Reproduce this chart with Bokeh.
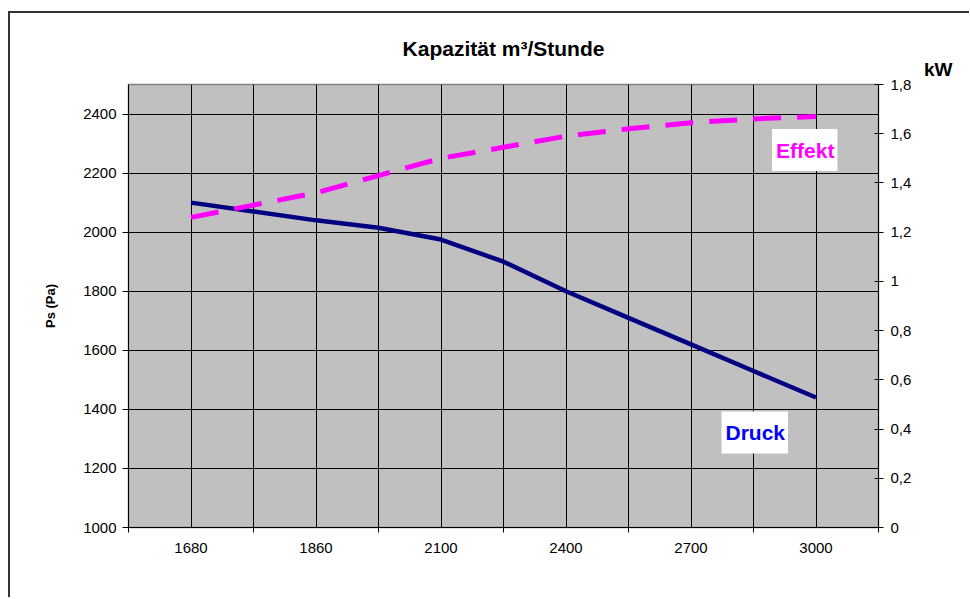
from bokeh.plotting import figure
from bokeh.models import Range1d, LinearAxis, FixedTicker, Label, Title, CustomJSTickFormatter
from bokeh.embed import file_html
from bokeh.resources import INLINE

# ---- data ----
capacity = ["1680", "", "1860", "", "2100", "", "2400", "", "2700", "", "3000"]
druck = [2100, 2070, 2040, 2015, 1975, 1900, 1800, 1710, 1620, 1530, 1440]
effekt = [1.26, 1.31, 1.36, 1.43, 1.50, 1.545, 1.59, 1.62, 1.645, 1.66, 1.67]
ps_ticks = [1000, 1200, 1400, 1600, 1800, 2000, 2200, 2400]
kw_ticks = [0, 0.2, 0.4, 0.6, 0.8, 1.0, 1.2, 1.4, 1.6, 1.8]
kw_labels = ["0", "0,2", "0,4", "0,6", "0,8", "1", "1,2", "1,4", "1,6", "1,8"]

FONT = "Liberation Sans"
n = len(capacity)
x = list(range(n))

p = figure(frame_width=750, frame_height=443,
           min_border_left=118, min_border_right=91,
           min_border_top=71, min_border_bottom=70,
           x_range=Range1d(-1, n), y_range=Range1d(1000, 2500),
           output_backend="svg", toolbar_location=None)
p.styles = {"margin-left": "8px", "margin-top": "11px",
            "border-left": "2px solid #333333",
            "border-top": "2px solid #333333"}

p.background_fill_color = "#C0C0C0"
p.border_fill_color = "white"
p.outline_line_color = "#808080"
p.outline_line_width = 1.5

# "kW" unit caption (inner title slot, right of the frame)
kw_title = Title(text="kW", align="right", offset=-74, text_font=FONT,
                 text_font_size="19px", text_font_style="bold",
                 text_color="black", standoff=10)
p.add_layout(kw_title, "above")

# main title (outer)
p.title.text = "Kapazität m³/Stunde"
p.title.align = "center"
p.title.text_font = FONT
p.title.text_font_size = "21px"
p.title.text_font_style = "bold"
p.title.text_color = "black"
try:
    p.title.standoff = -16
except Exception:
    p.title.standoff = 0

# second y range
p.extra_y_ranges = {"kw": Range1d(0, 1.8)}

# grids
p.xgrid.ticker = FixedTicker(ticks=list(range(-1, n + 1)))
p.xgrid.grid_line_color = "black"
p.xgrid.grid_line_width = 1
p.ygrid.ticker = FixedTicker(ticks=ps_ticks)
p.ygrid.grid_line_color = "black"
p.ygrid.grid_line_width = 1

# x axis
xa = p.xaxis[0]
xa.ticker = FixedTicker(ticks=x, minor_ticks=list(range(-1, n + 1, 2)))
xa.formatter = CustomJSTickFormatter(args=dict(labels=capacity),
                                     code="const i = Math.round(tick); return (i >= 0 && i < labels.length) ? labels[i] : '';")
xa.major_tick_in = 0
xa.major_tick_out = 0
xa.minor_tick_in = 3
xa.minor_tick_out = 5
xa.minor_tick_line_color = "black"
xa.major_label_standoff = 10

# left axis
ya = p.yaxis[0]
ya.ticker = FixedTicker(ticks=ps_ticks)
ya.major_tick_in = 0
ya.major_tick_out = 6
ya.major_label_standoff = 6
ya.minor_tick_line_color = None
ya.axis_label = "Ps (Pa)"
ya.axis_label_text_font = FONT
ya.axis_label_text_font_size = "13px"
ya.axis_label_text_font_style = "bold"
ya.axis_label_text_color = "black"
ya.axis_label_standoff = 22

# right axis
ra = LinearAxis(y_range_name="kw", ticker=FixedTicker(ticks=kw_ticks))
ra.formatter = CustomJSTickFormatter(args=dict(t=kw_ticks, l=kw_labels),
                                     code="const i = t.findIndex(v => Math.abs(v - tick) < 1e-9); return i >= 0 ? l[i] : '';")
ra.major_tick_in = 4
ra.major_tick_out = 5
ra.major_label_standoff = 7
ra.minor_tick_line_color = None
p.add_layout(ra, "right")

for ax in (xa, ya, ra):
    ax.major_label_text_font = FONT
    ax.major_label_text_font_size = "15px"
    ax.major_label_text_color = "black"
    ax.axis_line_color = "black"
    ax.major_tick_line_color = "black"

# series
p.line(x, druck, line_color="#000080", line_width=4.5)
p.line(x, effekt, y_range_name="kw", line_color="#FF00FF", line_width=5,
       line_dash="28 16")

# series labels
p.add_layout(Label(x=9.82, y=1.534, y_range_name="kw", text="Effekt",
                   text_color="#FF00FF", text_font=FONT, text_font_size="21px",
                   text_font_style="bold", text_align="center",
                   text_baseline="middle", background_fill_color="white",
                   padding=dict(left=4, right=3, top=10, bottom=9)))
p.add_layout(Label(x=9.02, y=1322, text="Druck",
                   text_color="#0000FF", text_font=FONT, text_font_size="21px",
                   text_font_style="bold", text_align="center",
                   text_baseline="middle", background_fill_color="white",
                   padding=dict(left=4, right=3, top=10, bottom=9)))

open("out.html", "w").write(file_html(p, INLINE))
